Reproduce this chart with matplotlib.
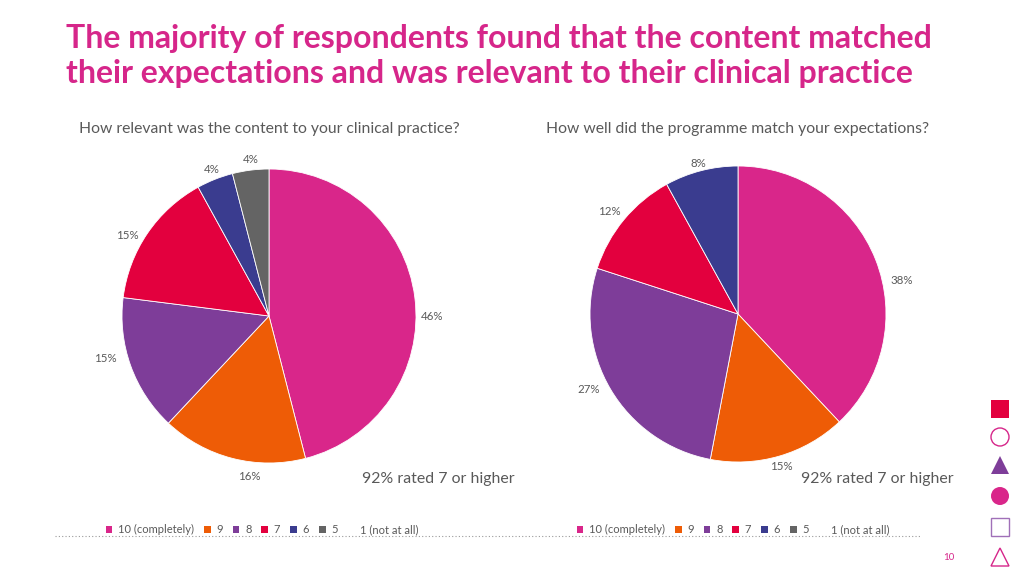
import matplotlib
matplotlib.use("Agg")
import matplotlib.pyplot as plt
from matplotlib.patches import Patch, Rectangle, Circle, Polygon
from matplotlib.transforms import offset_copy

# ---- data ----
categories = ["10 (completely)", "9", "8", "7", "6", "5", "1 (not at all)"]
colors = ["#D9268A", "#EE5C06", "#7E3D99", "#E3003E", "#3A3C8F", "#646464", "#FFFFFF"]

left_title = "How relevant was the content to your clinical practice?"
left_values = [46, 16, 15, 15, 4, 4]
left_note = "92% rated 7 or higher"

right_title = "How well did the programme match your expectations?"
right_values = [38, 15, 27, 12, 8]
right_note = "92% rated 7 or higher"

title = ("The majority of respondents found that the content matched\n"
         "their expectations and was relevant to their clinical practice")

# label nudges (pixels, x right / y down) to mimic the reference label placement
left_nudge = [(1, 21), (21, 2), (-10, -13), (-7, 11), (3, 5), (2, 5)]
right_nudge = [(11, 27), (-3, -5), (-8, -8), (-2, 2), (1, 9)]

plt.rcParams['font.family'] = ['Lato', 'DejaVu Sans']

W, H = 1024, 576
fig = plt.figure(figsize=(W / 100, H / 100), dpi=100)
fig.patch.set_facecolor("white")


def fx(x):
    return x / W


def fy(y):
    return 1 - y / H


# overlay axes in pixel coordinates
ov = fig.add_axes([0, 0, 1, 1])
ov.set_xlim(0, W)
ov.set_ylim(H, 0)
ov.axis("off")

fig.text(fx(66), fy(56), title, fontsize=23, fontweight="bold", color="#D6268A",
         ha="left", va="center", linespacing=1.24)


def draw_pie(values, cx, cy, r, subtitle, note, note_x, legend_cx, nudges):
    S = 400
    ax = fig.add_axes([fx(cx - S / 2), fy(cy + S / 2), S / W, S / H])
    L = S / 2 / r
    labels = [f"{v}%" for v in values]
    wedges, texts = ax.pie(values, colors=colors[:len(values)], startangle=90,
                           counterclock=False, labels=labels, labeldistance=1.11,
                           wedgeprops=dict(edgecolor="white", linewidth=0.6),
                           textprops=dict(fontsize=8.3, color="#595959"))
    for t, (dx, dy) in zip(texts, nudges):
        t.set_ha("center")
        t.set_va("center")
        t.set_transform(offset_copy(ax.transData, fig=fig, x=dx, y=-dy, units="dots"))
    ax.set_xlim(-L, L)
    ax.set_ylim(-L, L)
    ax.set_aspect("equal")
    ax.axis("off")
    fig.text(fx(cx), fy(129), subtitle, fontsize=11.3, color="#595959",
             ha="center", va="center")
    fig.text(fx(note_x), fy(479), note, fontsize=11.4, color="#595959",
             ha="center", va="center")
    handles = [Patch(facecolor=c, edgecolor="none") for c in colors]
    fig.legend(handles, categories, loc="center", ncol=len(categories),
               bbox_to_anchor=(fx(legend_cx), fy(529.5)), frameon=False,
               fontsize=8, handlelength=0.6, handleheight=0.6,
               handletextpad=0.5, columnspacing=0.9,
               labelcolor="#595959")


draw_pie(left_values, 269, 316, 147, left_title, left_note, 438, 262, left_nudge)
draw_pie(right_values, 738, 314, 148, right_title, right_note, 877, 733, right_nudge)

# dotted separator
ov.plot([55, 920], [536, 536], linestyle=(0, (1, 2)), color="#9A9A9A", linewidth=0.8)

# page number
ov.text(949, 558, "10", fontsize=7, color="#D6268A", ha="center", va="center")

# decorative shapes
sx = 1000
ov.add_patch(Rectangle((sx - 9, 400), 18, 18, facecolor="#E3003E", edgecolor="none"))
ov.add_patch(Circle((sx, 437), 9, facecolor="white", edgecolor="#D6268A", linewidth=1))
ov.add_patch(Polygon([[sx - 9, 474], [sx + 9, 474], [sx, 456]], closed=True,
                     facecolor="#7E3D99", edgecolor="none"))
ov.add_patch(Circle((sx, 496), 9, facecolor="#D9268A", edgecolor="none"))
ov.add_patch(Rectangle((sx - 9, 518), 18, 18, facecolor="white", edgecolor="#A070B8", linewidth=1))
ov.add_patch(Polygon([[sx - 9, 566], [sx + 9, 566], [sx, 548]], closed=True,
                     facecolor="white", edgecolor="#D6268A", linewidth=1))

fig.savefig("out.png", dpi=100)
